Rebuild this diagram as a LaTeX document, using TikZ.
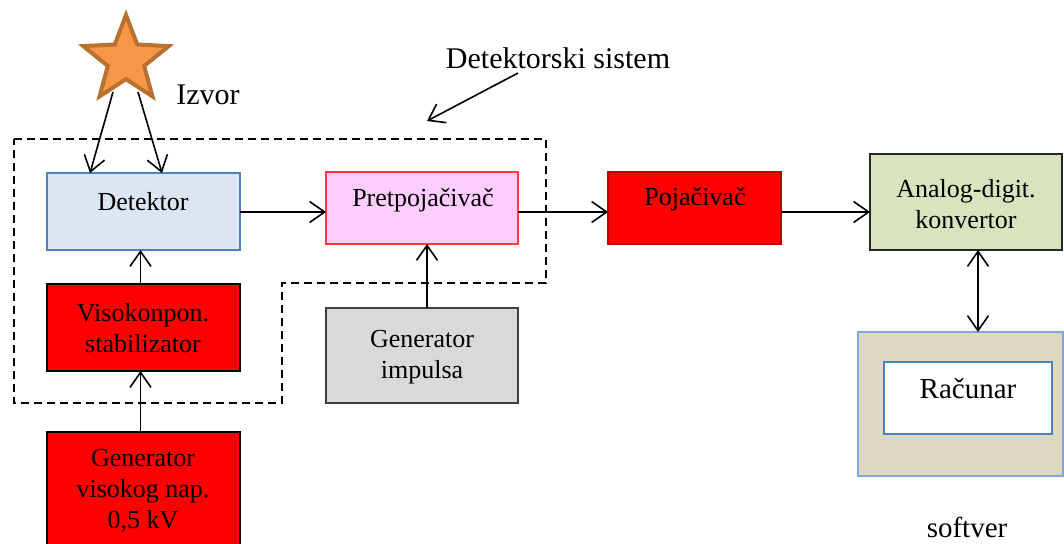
\documentclass[tikz,border=0pt]{standalone}
\usepackage{fontspec}
\setmainfont{Liberation Serif}
\usetikzlibrary{arrows.meta,shapes.geometric}
\definecolor{detfill}{HTML}{DCE6F2}
\definecolor{detdraw}{HTML}{4F81BD}
\definecolor{prefill}{HTML}{FFCCFF}
\definecolor{predraw}{HTML}{FF3B3B}
\definecolor{redfill}{HTML}{FF0000}
\definecolor{pojdraw}{HTML}{C00000}
\definecolor{genfill}{HTML}{D9D9D9}
\definecolor{gendraw}{HTML}{404040}
\definecolor{adcfill}{HTML}{D7E4BD}
\definecolor{adcdraw}{HTML}{262626}
\definecolor{swfill}{HTML}{DDD9C3}
\definecolor{swdraw}{HTML}{7FA7D8}
\definecolor{starfill}{HTML}{F79646}
\definecolor{stardraw}{HTML}{B9712F}
\begin{document}
\begin{tikzpicture}[x=1pt,y=-1pt,
  box/.style={rectangle, anchor=north west, inner sep=0, outer sep=0, line width=1.3pt},
  lbl/.style={font=\fontsize{26}{31}\selectfont, align=center, inner sep=0},
  biglbl/.style={font=\fontsize{30}{34}\selectfont, align=center, inner sep=0},
  arr/.style={line width=1.6pt, -{Straight Barb[length=15pt,width=21pt,line width=1.6pt]}},
  darr/.style={line width=1.6pt, {Straight Barb[length=15pt,width=21pt,line width=1.6pt]}-{Straight Barb[length=15pt,width=21pt,line width=1.6pt]}},
  sysline/.style={line width=1.8pt, dash pattern=on 8pt off 5pt}
]
\useasboundingbox (0,0) rectangle (1064,543);

% dashed detector system boundary
\draw[sysline] (14,139) -- (546,139) -- (546,283) -- (282,283) -- (282,403) -- (14,403) -- cycle;

% source star
\node[star, star points=5, star point ratio=2.35, minimum size=90pt, inner sep=0,
      draw=stardraw, fill=starfill, line width=4pt] (src) at (126,60) {};
\node[biglbl] (izvor) at (208,95) {Izvor};

% boxes
\node[box, draw=detdraw, fill=detfill, line width=2pt, minimum width=193pt, minimum height=77pt] (det) at (47,173) {};
\node[lbl] (detl) at (143,202) {Detektor};

\node[box, draw=predraw, fill=prefill, minimum width=192pt, minimum height=72pt] (pre) at (326,172) {};
\node[lbl] (prel) at (423,200) {Pretpojačivač};

\node[box, draw=pojdraw, fill=redfill, minimum width=173pt, minimum height=72pt] (poj) at (608,172) {};
\node[lbl] (pojl) at (695,199) {Pojačivač};

\node[box, draw=adcdraw, fill=adcfill, minimum width=192pt, minimum height=96pt] (adc) at (870,154) {};
\node[lbl] (adcl) at (966,204) {Analog-digit.\\konvertor};

\node[box, draw=black, fill=redfill, minimum width=193pt, minimum height=87pt] (stab) at (47,284) {};
\node[lbl] (stabl) at (143,328) {Visokonpon.\\stabilizator};

\node[box, draw=gendraw, fill=genfill, minimum width=192pt, minimum height=95pt] (gimp) at (326,308) {};
\node[lbl] (gimpl) at (422,357) {Generator\\impulsa};

\node[box, draw=black, fill=redfill, minimum width=193pt, minimum height=115pt] (ghv) at (47,432) {};
\node[lbl] (ghvl) at (143,491) {Generator\\visokog nap.\\0,5 kV};

\node[box, draw=swdraw, fill=swfill, minimum width=205pt, minimum height=144pt] (sw) at (858,332) {};
\node[box, draw=detdraw, fill=white, minimum width=168pt, minimum height=72pt] (rac) at (884,362) {};
\node[lbl, font=\fontsize{29}{33}\selectfont] (racl) at (968,389) {Računar};
\node[lbl, font=\fontsize{29}{33}\selectfont] (swl) at (967,527) {softver};

\node[biglbl] (dsys) at (558,58) {Detektorski sistem};

% connectors
\coordinate (s1) at (113,92);
\coordinate (s2) at (138,92);
\coordinate (d1) at (90,173);
\coordinate (d2) at (162,173);
\draw[arr] (s1) -- (d1);
\draw[arr] (s2) -- (d2);

\coordinate (dsa) at (518,73);
\coordinate (dsb) at (427,121);
\draw[arr] (dsa) -- (dsb);

\draw[arr] ([yshift=-0.5pt]det.east) -- ([yshift=-0.5pt]det.east -| pre.west);
\draw[arr] ([yshift=-0.5pt]det.east -| pre.east) -- ([yshift=-0.5pt]det.east -| poj.west);
\draw[arr] ([yshift=-0.5pt]det.east -| poj.east) -- ([yshift=-0.5pt]det.east -| adc.west);

\draw[arr] ([xshift=-3pt]stab.north) -- ([xshift=-3pt]det.south);
\draw[arr] ([xshift=-3pt]ghv.north) -- ([xshift=-3pt]stab.south);
\draw[arr] ([xshift=5pt]gimp.north) -- ([xshift=5pt]gimp.north |- pre.south);
\draw[darr] (978,250) -- (978,332);
\end{tikzpicture}
\end{document}
